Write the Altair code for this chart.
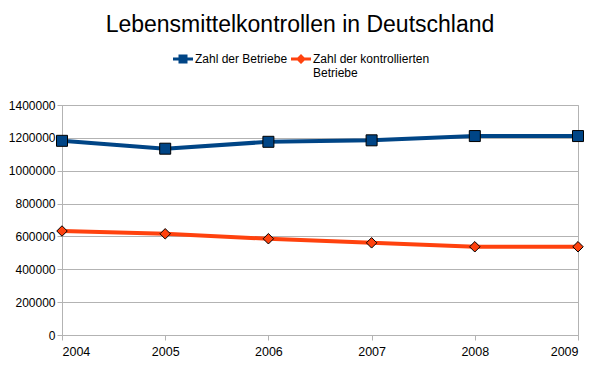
import altair as alt
import pandas as pd

years = [2004, 2005, 2006, 2007, 2008, 2009]
betriebe = [1182000, 1134000, 1176000, 1185000, 1211000, 1211000]
kontrolliert = [633000, 616000, 586000, 561000, 537000, 537000]
series_names = ["Zahl der Betriebe", "Zahl der kontrollierten Betriebe"]
colors = ["#004586", "#ff420e"]
y_ticks = [0, 200000, 400000, 600000, 800000, 1000000, 1200000, 1400000]

rows = []
for yr, v in zip(years, betriebe):
    rows.append({"year": yr, "value": v, "series": series_names[0]})
for yr, v in zip(years, kontrolliert):
    rows.append({"year": yr, "value": v, "series": series_names[1]})
df = pd.DataFrame(rows)

FONT = "Liberation Sans"

x_enc = alt.X("year:Q", scale=alt.Scale(domain=[years[0], years[-1]], nice=False, zero=False),
              axis=alt.Axis(values=years, format="d", title=None, grid=False, tickSize=5,
                            labelPadding=5, labelFontSize=12.5, labelFont=FONT, labelColor="black",
                            domainColor="#b3b3b3", tickColor="#b3b3b3"))
y_enc = alt.Y("value:Q", scale=alt.Scale(domain=[0, 1400000], nice=False),
              axis=alt.Axis(values=y_ticks, format="d", title=None, grid=True, gridColor="#b3b3b3",
                            tickSize=5, labelPadding=2, labelFontSize=12, labelFont=FONT,
                            labelColor="black", domainColor="#b3b3b3", tickColor="#b3b3b3"))

base = alt.Chart(df)

layers = []
shapes = ["square", "diamond"]
sizes = [121, 110]
for name, col, shp, sz in zip(series_names, colors, shapes, sizes):
    sub = base.transform_filter(alt.datum.series == name)
    layers.append(sub.mark_line(color=col, strokeWidth=4).encode(x=x_enc, y=y_enc))
for name, col, shp, sz in zip(series_names, colors, shapes, sizes):
    sub = base.transform_filter(alt.datum.series == name)
    layers.append(sub.mark_point(shape=shp, filled=True, fill=col, stroke="black", strokeWidth=1,
                                 size=sz, opacity=1).encode(x=x_enc, y=y_enc))

legend_paths = [
    "M-1,-0.15H1V0.15H-1Z M-0.45,-0.45H0.45V0.45H-0.45Z",
    "M-1,-0.15H1V0.15H-1Z M0,-0.5L0.5,0L0,0.5L-0.5,0Z",
]
leg = alt.Legend(orient="none", legendX=111, legendY=-56, direction="horizontal", title=None,
                 labelFont=FONT, labelFontSize=12, labelColor="black", symbolSize=400,
                 labelOffset=2, columnPadding=3, symbolStrokeWidth=0, symbolOpacity=1,
                 labelExpr="datum.label == 'Zahl der kontrollierten Betriebe' ? ['Zahl der kontrollierten', 'Betriebe'] : [datum.label, ' ']")
legend_layer = base.mark_point(filled=True, opacity=0).encode(
    x=x_enc, y=y_enc,
    color=alt.Color("series:N", scale=alt.Scale(domain=series_names, range=colors), legend=leg),
    shape=alt.Shape("series:N", scale=alt.Scale(domain=series_names, range=legend_paths), legend=leg),
)
layers.append(legend_layer)

chart = alt.layer(*layers).properties(
    width=516, height=230,
    title=alt.TitleParams("Lebensmittelkontrollen in Deutschland", fontSize=23, font=FONT,
                          fontWeight="normal", color="black", anchor="middle", dx=-20, offset=12),
    autosize=alt.AutoSizeParams(type="none"),
    padding={"left": 54, "top": 97, "right": 14, "bottom": 30},
    background="white",
).configure_view(stroke="#b3b3b3")

chart.save("out.html", embed_options={"renderer": "svg", "actions": False})
